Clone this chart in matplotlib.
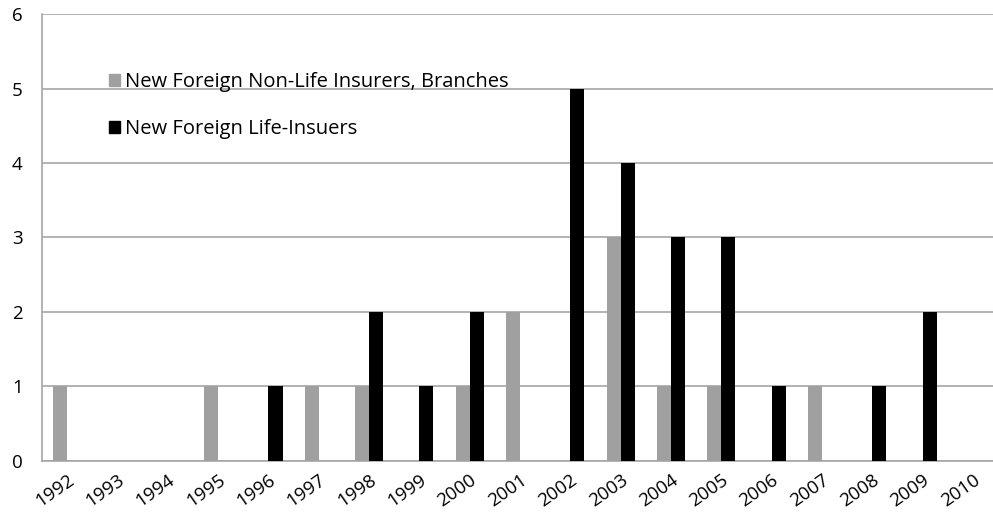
import matplotlib
matplotlib.use("Agg")
import matplotlib.pyplot as plt
import numpy as np
from matplotlib.patches import Patch

years = [str(y) for y in range(1992, 2011)]
non_life = [1, 0, 0, 1, 0, 1, 1, 0, 1, 2, 0, 3, 1, 1, 0, 1, 0, 0, 0]
life = [0, 0, 0, 0, 1, 0, 2, 1, 2, 0, 5, 4, 3, 3, 1, 0, 1, 2, 0]
labels = ["New Foreign Non-Life Insurers, Branches", "New Foreign Life-Insuers"]

plt.rcParams["font.family"] = ["Open Sans", "DejaVu Sans"]

fig = plt.figure(figsize=(9.93, 5.19), dpi=100)
ax = fig.add_axes([0.0423, 0.1118, 0.9577, 0.8612])

x = np.arange(len(years))
w = 0.28
ax.bar(x - w / 2, non_life, width=w, color="#a0a0a0", zorder=3)
ax.bar(x + w / 2, life, width=w, color="#000000", zorder=3)

ax.set_xlim(-0.5, 18.4)
ax.set_ylim(0, 6)
ax.set_yticks(range(0, 7))
ax.yaxis.grid(True, color="#a6a6a6", linewidth=1.2, zorder=0)
ax.set_axisbelow(True)

ax.set_xticks(x)
ax.set_xticklabels(years, rotation=35, ha="right", rotation_mode="anchor", fontsize=13.5)
ax.tick_params(axis="x", length=0, pad=7)
ax.tick_params(axis="y", length=0, pad=14, labelsize=13.5)

for s in ["top", "right"]:
    ax.spines[s].set_visible(False)
for s in ["left", "bottom"]:
    ax.spines[s].set_color("#a6a6a6")
    ax.spines[s].set_linewidth(1.2)

handles = [Patch(color="#a0a0a0"), Patch(color="#000000")]
ax.legend(handles, labels, loc="upper left", bbox_to_anchor=(0.062, 0.888),
          frameon=False, fontsize=14.5, handlelength=0.55, handleheight=0.55,
          handletextpad=0.25, labelspacing=1.35, borderaxespad=0)

fig.savefig("out.png", dpi=100)
